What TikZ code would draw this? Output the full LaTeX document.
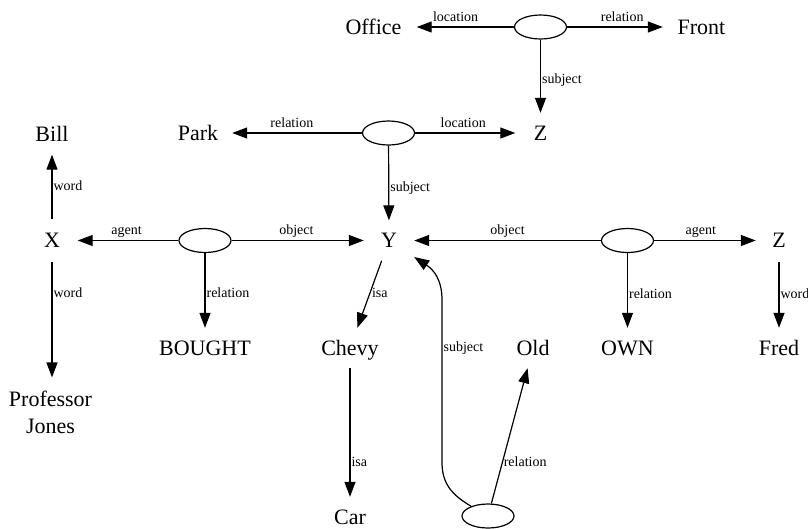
\documentclass[tikz,border=0pt]{standalone}
\usepackage{fontspec}
\setmainfont{Liberation Serif}
\usetikzlibrary{arrows.meta,shapes.geometric}
\begin{document}
\begin{tikzpicture}[x=1pt,y=-1pt,
  word/.style={inner sep=0pt, font=\fontsize{22}{26}\selectfont, text height=14.6pt, text depth=0pt, minimum height=40pt},
  rel/.style={ellipse, draw, line width=1.2pt, minimum width=52pt, minimum height=24pt, inner sep=0pt},
  edge/.style={line width=1.2pt, -{Triangle[length=15pt,width=11pt]}},
  hl/.style={font=\fontsize{14}{16}\selectfont, inner sep=0pt, text height=9.6pt, text depth=3pt, anchor=south, yshift=2pt},
  vl/.style={font=\fontsize{14}{16}\selectfont, inner sep=0pt, text height=9.6pt, text depth=3pt, anchor=west, xshift=1pt},
]
\useasboundingbox (0,0) rectangle (808,528);
% nodes
\node[word, minimum width=86pt] (office) at (373.5,27) {Office};
\node[rel] (e1) at (540.5,27) {};
\node[word, minimum width=77pt] (front) at (701.5,27) {Front};
\node[word, minimum width=50pt] (z1) at (540.5,133) {Z};
\node[word, minimum width=68pt] (park) at (198,133) {Park};
\node[rel] (e2) at (388.5,133) {};
\node[word] (bill) at (52,134.5) {Bill};
\node[word, minimum width=51pt, minimum height=42pt] (x) at (52,240.5) {X};
\node[rel] (e3) at (205,240.5) {};
\node[word, minimum width=50pt] (y) at (389,240.5) {Y};
\node[rel] (e4) at (627.5,240.5) {};
\node[word, minimum width=46pt, minimum height=42pt] (z2) at (779,240.5) {Z};
\node[word] (bought) at (205,348) {BOUGHT};
\node[word] (chevy) at (350,348) {Chevy};
\node[word] (old) at (533,348) {Old};
\node[word] (own) at (627.5,348) {OWN};
\node[word] (fred) at (779,348) {Fred};
\node[font=\fontsize{22}{27}\selectfont, align=center, inner xsep=0pt, inner ysep=13pt] (pj) at (50.5,412) {Professor\\Jones};
\node[word] (car) at (350,517) {Car};
\node[rel] (e5) at (488,516) {};
% edges
\draw[edge] (e1) -- node[hl,pos=0.6] (l1) {location} (office);
\draw[edge] (e1) -- node[hl,pos=0.576] (l2) {relation} (front);
\draw[edge] (e1) -- node[vl,pos=0.55] (l3) {subject} (z1);
\draw[edge] (e2) -- node[hl,pos=0.54] (l4) {relation} (park);
\draw[edge] (e2) -- node[hl,pos=0.48] (l5) {location} (z1);
\draw[edge] (e2) -- node[vl,pos=0.57] (l6) {subject} (y);
\draw[edge] (x) -- node[vl,pos=0.49] (l7) {word} (bill);
\draw[edge] (e3) -- node[hl,pos=0.515] (l8) {agent} (x);
\draw[edge] (e3) -- node[hl,pos=0.49] (l9) {object} (y);
\draw[edge] (e3) -- node[vl,pos=0.55] (l10) {relation} (bought);
\draw[edge] (y) -- node[vl,pos=0.5,xshift=1pt] (l11) {isa} (chevy);
\draw[edge] (x) -- node[vl,pos=0.285] (l12) {word} (x |- pj.north);
\draw[edge] (e4) -- node[hl,pos=0.5] (l13) {object} (y);
\draw[edge] (e4) -- node[hl,pos=0.46] (l14) {agent} (z2);
\draw[edge] (e4) -- node[vl,pos=0.56] (l15) {relation} (own);
\draw[edge] (z2) -- node[vl,pos=0.51] (l16) {word} (fred);
\draw[edge] (chevy) -- node[vl,pos=0.74] (l17) {isa} (car);
\draw[edge] (e5) -- node[vl,pos=0.3] (l18) {relation} (old);
\draw[edge] (e5) .. controls (450,494) and (442,482) .. (442,462)
  -- node[vl,pos=0.7] (l19) {subject} (442,300)
  .. controls (442,280) and (434,270) .. (y);
\end{tikzpicture}
\end{document}
